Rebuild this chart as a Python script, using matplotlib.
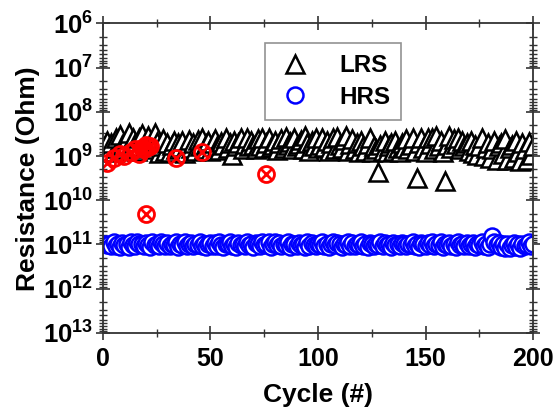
import math
import matplotlib
matplotlib.use("Agg")
import matplotlib.pyplot as plt
from matplotlib.ticker import FuncFormatter, LogLocator, MultipleLocator

plt.rcParams['font.family'] = ['Liberation Sans', 'DejaVu Sans']
plt.rcParams['font.weight'] = 'bold'
plt.rcParams['mathtext.fontset'] = 'custom'
plt.rcParams['mathtext.rm'] = 'Liberation Sans:bold'
plt.rcParams['mathtext.bf'] = 'Liberation Sans:bold'

# --- donnees ---
cycles = list(range(1, 201))

lrs = [
    6.0e8, 4.5e8, 7.5e8, 5.0e8, 8.0e8, 4.0e8, 6.5e8, 3.3e8, 5.5e8, 7.0e8,
    4.2e8, 3.0e8, 6.0e8, 3.8e8, 5.0e8, 7.5e8, 4.0e8, 3.2e8, 6.5e8, 4.5e8,
    3.5e8, 5.5e8, 7.0e8, 3.0e8, 4.8e8, 8.5e8, 6.0e8, 4.2e8, 7.8e8, 5.0e8,
    8.0e8, 5.5e8, 4.5e8, 7.0e8, 5.0e8, 6.2e8, 4.6e8, 8.3e8, 5.5e8, 4.3e8,
    6.5e8, 5.0e8, 7.5e8, 4.4e8, 5.8e8, 4.0e8, 6.8e8, 5.2e8, 4.5e8, 7.5e8,
    5.0e8, 4.2e8, 6.0e8, 7.2e8, 4.8e8, 5.5e8, 4.0e8, 6.5e8, 5.0e8, 9.5e8,
    4.5e8, 6.0e8, 5.0e8, 4.0e8, 7.0e8, 5.2e8, 3.8e8, 6.0e8, 4.5e8, 5.5e8,
    7.0e8, 4.2e8, 5.8e8, 3.8e8, 6.5e8, 5.0e8, 4.0e8, 6.2e8, 5.5e8, 4.6e8,
    7.2e8, 5.0e8, 4.2e8, 6.5e8, 3.7e8, 5.5e8, 4.8e8, 7.0e8, 4.0e8, 6.0e8,
    5.2e8, 4.4e8, 6.8e8, 3.6e8, 5.0e8, 7.5e8, 4.5e8, 5.8e8, 4.0e8, 6.5e8,
    5.5e8, 3.8e8, 6.2e8, 4.6e8, 7.5e8, 5.0e8, 4.0e8, 7.0e8, 3.7e8, 5.5e8,
    6.5e8, 4.3e8, 3.6e8, 7.8e8, 5.2e8, 4.2e8, 6.8e8, 5.0e8, 8.0e8, 4.5e8,
    6.0e8, 7.5e8, 5.2e8, 4.0e8, 8.0e8, 6.0e8, 7.0e8, 2.3e9, 5.5e8, 7.5e8,
    4.5e8, 8.0e8, 6.0e8, 5.0e8, 7.5e8, 4.5e8, 6.5e8, 8.0e8, 5.0e8, 6.5e8,
    4.2e8, 7.0e8, 5.5e8, 3.8e8, 7.5e8, 3.2e9, 5.0e8, 4.0e8, 6.5e8, 8.0e8,
    3.8e8, 5.2e8, 4.0e8, 7.0e8, 3.5e8, 6.0e8, 4.5e8, 8.0e8, 3.7e9, 5.5e8,
    3.6e8, 6.5e8, 4.2e8, 5.2e8, 3.8e8, 7.0e8, 4.5e8, 6.0e8, 5.0e8, 7.5e8,
    4.5e8, 8.5e8, 5.5e8, 9.5e8, 6.0e8, 4.0e8, 1.0e9, 6.5e8, 5.0e8, 1.1e9,
    7.0e8, 4.5e8, 1.2e9, 6.0e8, 5.0e8, 9.0e8, 4.2e8, 1.2e9, 6.5e8, 5.5e8,
    1.1e9, 4.5e8, 8.0e8, 1.3e9, 5.0e8, 7.0e8, 1.2e9, 4.8e8, 9.5e8, 6.0e8,
]

hrs = [
    1.00e11, 1.05e11, 9.5e10, 1.10e11, 9.0e10, 1.08e11, 1.00e11, 1.15e11, 9.2e10, 1.05e11,
    9.8e10, 1.12e11, 9.0e10, 1.03e11, 1.10e11, 8.8e10, 1.00e11, 9.6e10, 1.08e11, 9.3e10,
    1.02e11, 1.12e11, 9.0e10, 1.05e11, 9.7e10, 1.10e11, 8.9e10, 1.00e11, 1.06e11, 9.4e10,
    1.10e11, 9.8e10, 1.04e11, 9.0e10, 1.12e11, 9.6e10, 1.02e11, 8.8e10, 1.06e11, 1.00e11,
    9.2e10, 1.10e11, 9.7e10, 1.04e11, 8.9e10, 1.08e11, 9.5e10, 1.13e11, 9.9e10, 9.1e10,
    1.06e11, 9.4e10, 1.10e11, 9.0e10, 1.02e11, 1.14e11, 9.6e10, 1.00e11, 8.9e10, 1.07e11,
    9.5e10, 1.12e11, 9.2e10, 1.03e11, 9.8e10, 1.10e11, 8.8e10, 1.05e11, 9.6e10, 1.15e11,
    9.3e10, 1.00e11, 1.08e11, 9.0e10, 1.04e11, 9.7e10, 8.6e10, 1.12e11, 9.5e10, 8.8e10,
    1.02e11, 9.3e10, 1.10e11, 9.8e10, 1.05e11, 9.0e10, 1.13e11, 9.5e10, 1.00e11, 1.08e11,
    9.2e10, 1.04e11, 9.7e10, 1.12e11, 8.9e10, 1.06e11, 9.4e10, 1.01e11, 1.10e11, 9.6e10,
    1.03e11, 9.0e10, 1.08e11, 9.5e10, 1.12e11, 9.8e10, 8.8e10, 1.05e11, 9.3e10, 1.00e11,
    1.14e11, 9.6e10, 1.02e11, 9.0e10, 1.08e11, 9.4e10, 1.10e11, 9.7e10, 1.04e11, 8.9e10,
    1.06e11, 9.5e10, 1.12e11, 9.2e10, 1.00e11, 1.08e11, 9.6e10, 1.03e11, 9.0e10, 1.10e11,
    9.4e10, 1.05e11, 9.8e10, 1.12e11, 9.1e10, 1.02e11, 9.6e10, 1.08e11, 9.3e10, 1.00e11,
    1.10e11, 9.5e10, 1.04e11, 8.9e10, 1.06e11, 9.8e10, 1.12e11, 9.2e10, 1.00e11, 1.07e11,
    9.4e10, 1.03e11, 9.0e10, 1.10e11, 9.6e10, 1.05e11, 8.8e10, 1.12e11, 9.7e10, 1.02e11,
    9.3e10, 1.08e11, 9.5e10, 1.14e11, 9.0e10, 1.04e11, 9.8e10, 1.10e11, 9.2e10, 1.06e11,
    1.00e11, 9.4e10, 1.12e11, 9.6e10, 1.03e11, 9.0e10, 1.08e11, 9.5e10, 1.15e11, 9.8e10,
    6.5e10, 8.8e10, 1.05e11, 9.2e10, 1.12e11, 1.00e11, 1.18e11, 9.6e10, 1.20e11, 1.05e11,
    9.4e10, 1.15e11, 1.00e11, 1.22e11, 9.6e10, 1.10e11, 1.02e11, 9.0e10, 1.08e11, 9.5e10,
]

# points rouges (cellules echouees)
fail_cycles = [2, 5, 8, 10, 13, 15, 17, 18, 19, 20, 21, 22, 20, 34, 46, 76]
fail_res = [1.4e9, 1.1e9, 9.0e8, 1.0e9, 8.0e8, 7.0e8, 9.0e8, 6.5e8, 7.0e8, 5.6e8,
            6.3e8, 6.0e8, 2.0e10, 1.1e9, 8.0e8, 2.5e9]

fig = plt.figure(figsize=(5.56, 4.12), dpi=100)
ax = fig.add_axes([0.185, 0.192, 0.774, 0.751])

ax.plot(cycles, lrs, linestyle='none', marker='^', markersize=13,
        markerfacecolor='white', markeredgecolor='black', markeredgewidth=1.8,
        label='LRS')
ax.plot(cycles, hrs, linestyle='none', marker='o', markersize=11.5,
        markerfacecolor='white', markeredgecolor='blue', markeredgewidth=1.8,
        label='HRS')
ax.plot(fail_cycles, fail_res, linestyle='none', marker='o', markersize=11.5,
        markerfacecolor='none', markeredgecolor='red', markeredgewidth=2)
ax.plot(fail_cycles, fail_res, linestyle='none', marker='x', markersize=8,
        markeredgecolor='red', markeredgewidth=2)

ax.set_yscale('log')
ax.set_ylim(1e13, 1e6)
ax.set_xlim(0, 200)

ax.xaxis.set_major_locator(MultipleLocator(50))
ax.xaxis.set_minor_locator(MultipleLocator(25))
ax.yaxis.set_major_locator(LogLocator(base=10, numticks=20))
ax.yaxis.set_minor_locator(LogLocator(base=10, subs=range(2, 10), numticks=20))
ax.yaxis.set_major_formatter(FuncFormatter(lambda v, p: r'$\mathbf{10^{%d}}$' % round(math.log10(v))))

ax.tick_params(which='both', direction='inout', top=True, right=True,
               colors='#333333', labelcolor='black')
ax.tick_params(axis='x', labelsize=18, pad=5)
ax.tick_params(axis='y', labelsize=18.5, pad=2)
ax.tick_params(which='major', length=10, width=1.2)
ax.tick_params(which='minor', length=6, width=1.0)
for lab in ax.get_xticklabels():
    lab.set_fontweight('bold')

for sp in ax.spines.values():
    sp.set_linewidth(1.3)
    sp.set_color('#333333')

ax.set_xlabel('Cycle (#)', fontsize=19, fontweight='bold', labelpad=9)
ax.set_ylabel('Resistance (Ohm)', fontsize=19, fontweight='bold', labelpad=2)

leg = ax.legend(loc='upper left', bbox_to_anchor=(0.377, 0.936), fontsize=17.5,
                frameon=True, fancybox=False, borderpad=0.45, handletextpad=1.0,
                handlelength=1.6, labelspacing=0.35, borderaxespad=0)
leg.get_frame().set_edgecolor('#777777')
leg.get_frame().set_linewidth(1.2)
for t in leg.get_texts():
    t.set_fontweight('bold')

plt.savefig('out.png', dpi=100)
